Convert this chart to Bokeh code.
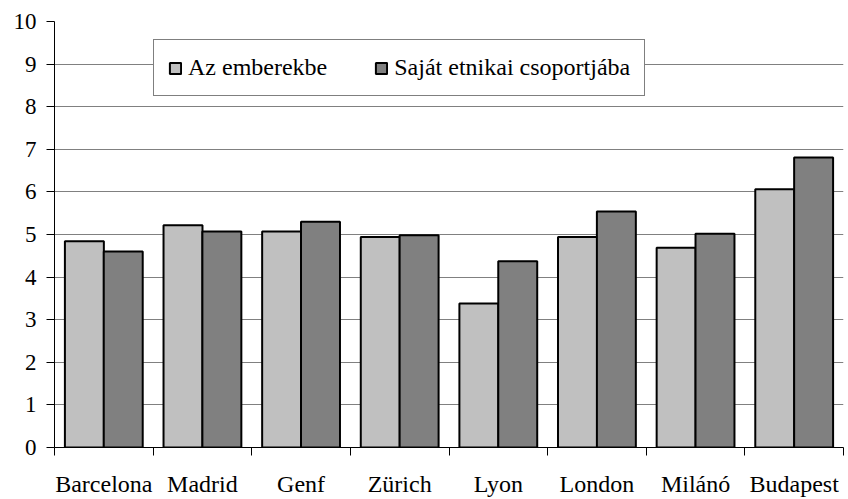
import numpy as np
from bokeh.plotting import figure
from bokeh.models import (Range1d, LinearAxis, FixedTicker, ColumnDataSource, Legend, LegendItem)
from bokeh.transform import dodge
from bokeh.embed import file_html
from bokeh.resources import INLINE

cities = ["Barcelona", "Madrid", "Genf", "Zürich", "Lyon", "London", "Milánó", "Budapest"]
az_emberekbe = [4.84, 5.22, 5.07, 4.94, 3.38, 4.94, 4.69, 6.06]
sajat_etnikai = [4.60, 5.07, 5.30, 4.98, 4.37, 5.54, 5.02, 6.81]
series_names = ["Az emberekbe", "Saját etnikai csoportjába"]
y_ticks = list(range(0, 11))

FONT = "'Liberation Serif', serif"

n = len(cities)
centers = np.arange(n) + 0.5
src = ColumnDataSource(dict(x=centers, a=az_emberekbe, b=sajat_etnikai))

p = figure(width=848, height=499, output_backend="svg", toolbar_location=None,
           x_range=Range1d(0, n), y_range=Range1d(0, 10),
           x_axis_location=None, min_border_left=54, min_border_right=5,
           min_border_top=21, min_border_bottom=52)
p.outline_line_color = None
p.background_fill_color = "white"
p.border_fill_color = "white"

r1 = p.vbar(x=dodge("x", -0.197), top="a", width=0.395, source=src,
            fill_color="#C0C0C0", line_color="black", line_width=2)
r2 = p.vbar(x=dodge("x", 0.197), top="b", width=0.395, source=src,
            fill_color="#808080", line_color="black", line_width=2)

# y axis
ya = p.yaxis[0]
ya.ticker = FixedTicker(ticks=y_ticks)
ya.minor_tick_line_color = None
ya.major_tick_out = 8
ya.major_tick_in = 0
ya.axis_line_color = "black"
ya.major_tick_line_color = "black"
ya.major_label_text_font = FONT
ya.major_label_text_font_size = "23px"
ya.major_label_text_color = "black"
ya.major_label_standoff = 10

p.xgrid.grid_line_color = None
p.ygrid.ticker = FixedTicker(ticks=y_ticks)
p.ygrid.grid_line_color = "#808080"
p.ygrid.grid_line_width = 1

# boundary tick axis
edges = list(range(n + 1))
ta = LinearAxis(ticker=FixedTicker(ticks=edges))
ta.major_label_overrides = {i: "" for i in edges}
ta.major_label_text_font_size = "1px"
ta.major_label_standoff = 0
ta.major_tick_out = 8
ta.major_tick_in = 0
ta.minor_tick_line_color = None
ta.axis_line_color = "black"
ta.major_tick_line_color = "black"
p.add_layout(ta, "below")

# category label axis
ca = LinearAxis(ticker=FixedTicker(ticks=list(centers)))
ca.major_label_overrides = {float(c): name for c, name in zip(centers, cities)}
ca.axis_line_color = None
ca.major_tick_line_color = None
ca.minor_tick_line_color = None
ca.major_tick_out = 0
ca.major_tick_in = 0
ca.major_label_standoff = 15
ca.major_label_text_font = FONT
ca.major_label_text_font_size = "24px"
ca.major_label_text_color = "black"
p.add_layout(ca, "below")

legend = Legend(items=[LegendItem(label=series_names[0], renderers=[r1]),
                       LegendItem(label=series_names[1], renderers=[r2])],
                orientation="horizontal", location=(99, 351))
legend.label_text_font = FONT
legend.label_text_font_size = "24px"
legend.label_text_color = "black"
legend.glyph_width = 14
legend.glyph_height = 14
legend.label_standoff = 6
legend.spacing = 47
legend.padding = 14
legend.margin = 0
legend.border_line_color = "black"
legend.border_line_width = 1
legend.background_fill_color = "white"
legend.background_fill_alpha = 1
p.add_layout(legend, "center")

open("out.html", "w").write(file_html(p, INLINE))
